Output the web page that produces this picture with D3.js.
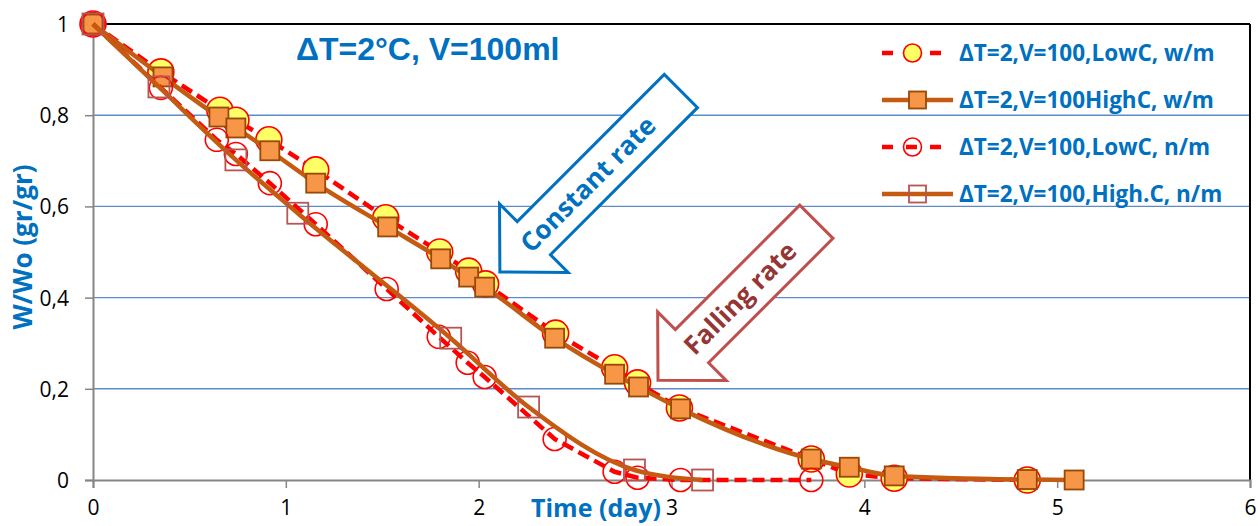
<!DOCTYPE html>
<html>
<head>
<meta charset="utf-8">
<script src="https://cdn.jsdelivr.net/npm/d3@7"></script>
<style>
  body { margin: 0; background: #fff; }
  svg { display: block; }
</style>
</head>
<body>
<div id="chart"></div>
<script>
// values
let timeLowW  = [0, 0.352, 0.658, 0.741, 0.912, 1.155, 1.518, 1.798, 1.948, 2.036, 2.399, 2.705, 2.824, 3.041, 3.725, 3.922, 4.155, 4.845];
let ratioLowW = [1, 0.895, 0.811, 0.789, 0.746, 0.680, 0.575, 0.500, 0.458, 0.430, 0.322, 0.246, 0.213, 0.158, 0.046, 0.013, 0.004, 0.0];

let timeHighW  = [0, 0.363, 0.653, 0.741, 0.917, 1.155, 1.528, 1.803, 1.948, 2.031, 2.394, 2.705, 2.829, 3.047, 3.725, 3.922, 4.155, 4.845, 5.088];
let ratioHighW = [1, 0.884, 0.796, 0.772, 0.722, 0.651, 0.555, 0.485, 0.445, 0.423, 0.311, 0.232, 0.204, 0.156, 0.046, 0.028, 0.009, 0.001, 0.0];

let timeLowN  = [0, 0.352, 0.642, 0.741, 0.917, 1.155, 1.523, 1.793, 1.943, 2.031, 2.394, 2.705, 2.824, 3.047, 3.725];
let ratioLowN = [1, 0.860, 0.746, 0.715, 0.651, 0.561, 0.419, 0.314, 0.257, 0.226, 0.090, 0.018, 0.005, 0.0, 0.0];

let timeHighN  = [0, 0.342, 0.741, 1.062, 1.855, 2.259, 2.808, 3.161];
let ratioHighN = [1, 0.862, 0.702, 0.585, 0.311, 0.160, 0.022, 0.0];

let seriesNames = ["ΔT=2,V=100,LowC, w/m", "ΔT=2,V=100HighC, w/m", "ΔT=2,V=100,LowC, n/m", "ΔT=2,V=100,High.C, n/m"];
let xTicks = [0, 1, 2, 3, 4, 5, 6];
let yTicks = [0, 0.2, 0.4, 0.6, 0.8, 1];
let yTickLabels = ["0", "0,2", "0,4", "0,6", "0,8", "1"];

// Colors
let blueText = '#0070c0';
let gridColor = '#5b8bc9';
let redLine = '#ff0000';
let brownLine = '#c55a11';

let width = 1258, height = 526;
let margin = {top: 24, right: 8, bottom: 46, left: 93};
let plotW = width - margin.left - margin.right;
let plotH = height - margin.top - margin.bottom;

let xScale = d3.scaleLinear().domain([0, 6]).range([0, plotW]);
let yScale = d3.scaleLinear().domain([0, 1]).range([plotH, 0]);

let svg = d3.select("#chart")
    .append("svg")
    .attr("width", width)
    .attr("height", height)
    .append("g")
    .attr("transform", "translate(" + margin.left + "," + margin.top + ")");

// gridlines
svg.append("g")
    .selectAll("line")
    .data(yTicks.filter(t => t > 0 && t < 1))
    .enter().append("line")
    .attr("x1", 0).attr("x2", plotW)
    .attr("y1", d => yScale(d)).attr("y2", d => yScale(d))
    .attr("stroke", gridColor)
    .attr("stroke-width", 1.4);

// frame top / right
svg.append("line").attr("x1", 0).attr("x2", plotW).attr("y1", 0).attr("y2", 0)
    .attr("stroke", "#000").attr("stroke-width", 2);
svg.append("line").attr("x1", plotW).attr("x2", plotW).attr("y1", 0).attr("y2", plotH)
    .attr("stroke", "#000").attr("stroke-width", 2);

// axes
let yAxis = svg.append("g")
    .call(d3.axisLeft(yScale).tickValues(yTicks).tickSize(8).tickFormat((d, i) => yTickLabels[i]));
let xAxis = svg.append("g")
    .attr("transform", "translate(0," + plotH + ")")
    .call(d3.axisBottom(xScale).tickValues(xTicks).tickSize(8).tickFormat(d3.format("d")));

[xAxis, yAxis].forEach(ax => {
    ax.select(".domain").attr("stroke", "#868686").attr("stroke-width", 2);
    ax.selectAll(".tick line").attr("stroke", "#868686").attr("stroke-width", 1.5);
    ax.selectAll(".tick text")
        .attr("fill", "#000")
        .style("font-family", "'Open Sans', sans-serif")
        .style("font-size", "21px");
});
yAxis.selectAll(".tick text").attr("x", -24).attr("dy", "0.36em");
xAxis.selectAll(".tick text").attr("y", 20).attr("dy", "0.71em");

// arrows (annotation) - tip position in data units, shape in px
function arrowPoints(L, sw, hw, hl) {
    return [[0, 0], [-hl, -hw / 2], [-hl, -sw / 2], [-L, -sw / 2], [-L, sw / 2], [-hl, sw / 2], [-hl, hw / 2]];
}

let arrows = [
    {tip: [2.11, 0.456], L: 256, stroke: '#0070c0', text: "Constant rate", textColor: '#0070c0', textPos: 0.47},
    {tip: [2.93, 0.219], L: 224, stroke: '#c0504d', text: "Falling rate", textColor: '#943634', textPos: 0.5}
];

arrows.forEach(a => {
    let g = svg.append("g")
        .attr("transform", "translate(" + xScale(a.tip[0]) + "," + yScale(a.tip[1]) + ") rotate(135)");
    g.append("polygon")
        .attr("points", arrowPoints(a.L, 47, 97, 48).map(p => p.join(",")).join(" "))
        .attr("fill", "#fff")
        .attr("stroke", a.stroke)
        .attr("stroke-width", 3)
        .attr("stroke-linejoin", "miter");
    g.append("text")
        .attr("transform", "translate(" + (-a.L * a.textPos - 4) + ",0) rotate(180)")
        .attr("text-anchor", "middle")
        .attr("dy", "0.36em")
        .attr("fill", a.textColor)
        .style("font-family", "'Open Sans', sans-serif")
        .style("font-weight", "bold")
        .style("font-size", "26px")
        .text(a.text);
});

// series
let series = [
    {x: timeLowW, y: ratioLowW, line: redLine, dash: "12,6", marker: "circle", r: 13, fill: '#ffff66', mstroke: '#ff0000', curve: d3.curveLinear},
    {x: timeHighW, y: ratioHighW, line: brownLine, dash: null, marker: "square", r: 9.5, fill: '#f79646', mstroke: '#984807', curve: d3.curveMonotoneX},
    {x: timeLowN, y: ratioLowN, line: redLine, dash: "12,6", marker: "circle", r: 11.5, fill: 'none', mstroke: '#ff0000', curve: d3.curveLinear},
    {x: timeHighN, y: ratioHighN, line: brownLine, dash: null, marker: "square", r: 10.5, fill: 'none', mstroke: '#b65552', curve: d3.curveMonotoneX}
];

series.forEach(s => {
    let pts = s.x.map((t, i) => ({x: t, y: s.y[i]}));
    let line = d3.line().x(d => xScale(d.x)).y(d => yScale(d.y)).curve(s.curve);
    svg.append("path")
        .datum(pts)
        .attr("d", line)
        .attr("fill", "none")
        .attr("stroke", s.line)
        .attr("stroke-width", 4.5)
        .attr("stroke-dasharray", s.dash);
    drawMarkers(svg, pts.map(d => [xScale(d.x), yScale(d.y)]), s, s.r);
});

function drawMarkers(parent, coords, s, r) {
    if (s.marker == "circle") {
        parent.append("g").selectAll("circle")
            .data(coords).enter().append("circle")
            .attr("cx", d => d[0]).attr("cy", d => d[1]).attr("r", r)
            .attr("fill", s.fill).attr("stroke", s.mstroke).attr("stroke-width", 1.6);
    } else {
        parent.append("g").selectAll("rect")
            .data(coords).enter().append("rect")
            .attr("x", d => d[0] - r).attr("y", d => d[1] - r)
            .attr("width", 2 * r).attr("height", 2 * r)
            .attr("fill", s.fill).attr("stroke", s.mstroke).attr("stroke-width", 1.8);
    }
}

// title inside plot
svg.append("text")
    .attr("x", 203)
    .attr("y", 36)
    .attr("fill", blueText)
    .style("font-family", "'Liberation Sans', Arial, sans-serif")
    .style("font-weight", "bold")
    .style("font-size", "32px")
    .text("ΔT=2°C, V=100ml");

// legend
let legend = d3.select("svg").append("g").attr("id", "legend");
seriesNames.forEach((name, i) => {
    let s = series[i];
    let cy = 53 + i * 47;
    let x0 = 882, x1 = s.dash ? 943 : 953;
    let cx = (x0 + x1) / 2;
    legend.append("line")
        .attr("x1", x0).attr("x2", x1).attr("y1", cy).attr("y2", cy)
        .attr("stroke", s.line).attr("stroke-width", 4.5)
        .attr("stroke-dasharray", s.dash ? "11,13" : null);
    drawMarkers(legend, [[cx, cy]], s, s.marker == "circle" ? 9 : 8.5);
    legend.append("text")
        .attr("x", 959)
        .attr("y", cy)
        .attr("dy", "0.36em")
        .attr("fill", blueText)
        .style("font-family", "'Open Sans', sans-serif")
        .style("font-weight", "bold")
        .style("font-size", "22.5px")
        .text(name);
});

// axis titles
d3.select("svg").append("text")
    .attr("transform", "translate(32,247) rotate(-90)")
    .attr("text-anchor", "middle")
    .attr("fill", blueText)
    .style("font-family", "'Open Sans', sans-serif")
    .style("font-weight", "bold")
    .style("font-size", "26px")
    .text("W/Wo (gr/gr)");

d3.select("svg").append("text")
    .attr("x", 596)
    .attr("y", 517)
    .attr("text-anchor", "middle")
    .attr("fill", blueText)
    .style("font-family", "'Open Sans', sans-serif")
    .style("font-weight", "bold")
    .style("font-size", "25px")
    .text("Time (day)");
</script>
</body>
</html>
